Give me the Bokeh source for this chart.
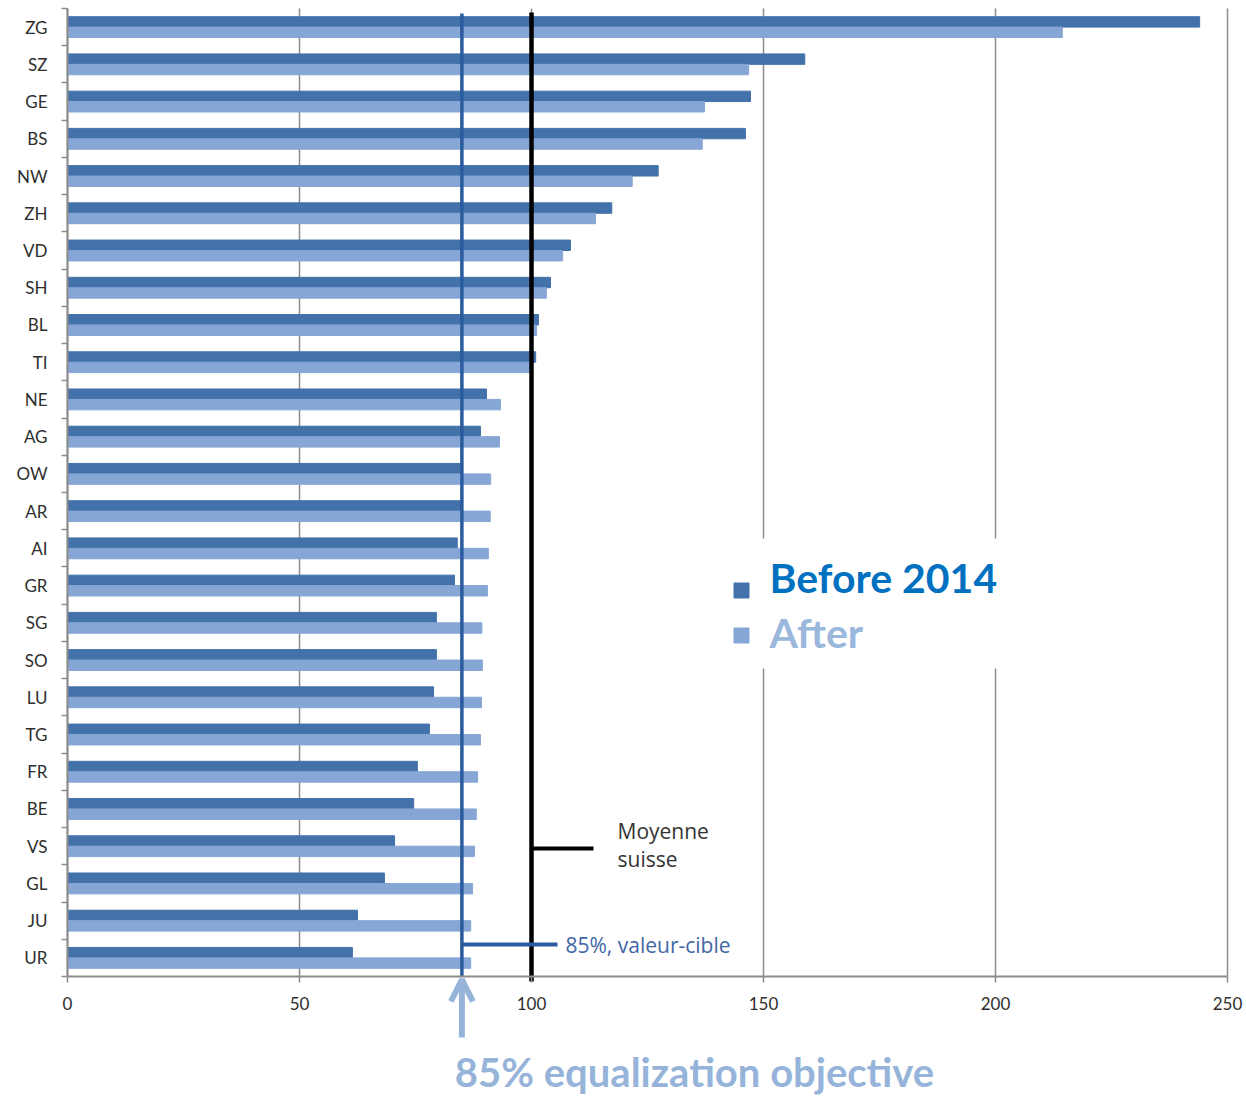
import numpy as np
from bokeh.plotting import figure
from bokeh.models import (Range1d, FixedTicker, Label, Arrow, OpenHead)
from bokeh.embed import file_html
from bokeh.resources import INLINE

# Resource index by canton, top to bottom (Swiss average = 100)
cantons = ["ZG", "SZ", "GE", "BS", "NW", "ZH", "VD", "SH", "BL", "TI", "NE", "AG", "OW",
           "AR", "AI", "GR", "SG", "SO", "LU", "TG", "FR", "BE", "VS", "GL", "JU", "UR"]
before_2014 = [244.0, 158.9, 147.2, 146.1, 127.3, 117.3, 108.4, 104.1, 101.5, 100.9, 90.3, 89.0, 85.1,
               84.9, 84.0, 83.4, 79.5, 79.5, 78.9, 78.0, 75.4, 74.6, 70.5, 68.3, 62.5, 61.4]
after = [214.4, 146.8, 137.3, 136.8, 121.7, 113.8, 106.7, 103.2, 101.1, 100.2, 93.3, 93.1, 91.2,
         91.1, 90.7, 90.5, 89.3, 89.4, 89.2, 89.0, 88.4, 88.1, 87.7, 87.3, 86.9, 86.9]
x_ticks = [0, 50, 100, 150, 200, 250]
swiss_average = 100
target = 85

DARK = "#4372aa"
LIGHT = "#86a6d5"
GRID = "#8c8c8c"
PALE = "#96b4da"
TARGET_BLUE = "#2a5b9e"

n = len(cantons)
pos = np.arange(n)[::-1] + 0.5   # ZG at the top

# page layout: rows from y=8 to y=976, value 0 at x=67 and 250 at x=1227
ROW_PX = (976 - 8) / n
X_PX = (1227 - 67) / 250

def sy(px):
    """vertical page position -> y value"""
    return (976 - px) / ROW_PX

def sx(px):
    return (px - 67) / X_PX

W, H = 1246, 1098
p = figure(width=W, height=H, output_backend="svg", toolbar_location=None,
           x_range=Range1d(sx(0), sx(W)), y_range=Range1d(sy(H), sy(0)),
           min_border_left=0, min_border_right=0, min_border_top=0, min_border_bottom=0)
p.outline_line_color = None
p.background_fill_color = "white"
p.border_fill_color = "white"

# both axes are pinned to the origin so the caption area below stays free
p.xaxis.fixed_location = 0
p.yaxis.fixed_location = 0
p.xaxis.ticker = FixedTicker(ticks=x_ticks)
p.xaxis.bounds = (0, 250)
p.yaxis.ticker = FixedTicker(ticks=list(pos), minor_ticks=list(range(n + 1)))
p.yaxis.major_label_overrides = {float(v): c for v, c in zip(pos, cantons)}
p.yaxis.bounds = (0, n)
for ax in (p.xaxis[0], p.yaxis[0]):
    ax.axis_line_color = GRID
    ax.axis_line_width = 2
    ax.major_label_text_font = "Lato"
    ax.major_label_text_font_size = "17px"
    ax.major_label_text_color = "#2e2e2e"
p.xaxis.major_tick_line_color = GRID
p.xaxis.major_tick_line_width = 1.5
p.xaxis.major_tick_out = 6
p.xaxis.major_tick_in = 0
p.xaxis.minor_tick_line_color = None
p.xaxis.major_label_standoff = 14
p.yaxis.major_tick_line_color = None
p.yaxis.major_tick_out = 0
p.yaxis.major_tick_in = 0
p.yaxis.minor_tick_line_color = GRID
p.yaxis.minor_tick_line_width = 1.5
p.yaxis.minor_tick_out = 6
p.yaxis.minor_tick_in = 0
p.yaxis.major_label_standoff = 14

p.xgrid.grid_line_color = GRID
p.xgrid.grid_line_width = 1.5
p.ygrid.visible = False

# blank out the grid outside the rows
p.quad(left=[sx(0)], right=[sx(W)], bottom=[sy(H)], top=[0], fill_color="white", line_color=None)
p.quad(left=[sx(0)], right=[sx(W)], bottom=[n], top=[sy(0)], fill_color="white", line_color=None)

# bars
p.hbar(y=pos + 0.14, left=0, right=before_2014, height=0.28, color=DARK)
p.hbar(y=pos - 0.14, left=0, right=after, height=0.28, color=LIGHT)

# reference lines
p.segment(x0=[target], x1=[target], y0=[0], y1=[sy(13)], line_color=TARGET_BLUE, line_width=3.5)
p.segment(x0=[swiss_average], x1=[swiss_average], y0=[sy(981)], y1=[sy(12)],
          line_color="black", line_width=4.5)

# callout lines
p.segment(x0=[swiss_average], x1=[sx(593)], y0=[sy(848)], y1=[sy(848)], line_color="black", line_width=4)
p.segment(x0=[target], x1=[sx(557)], y0=[sy(944)], y1=[sy(944)], line_color=TARGET_BLUE, line_width=4)

p.add_layout(Label(x=sx(617), y=sy(830), text="Moyenne", text_font="Open Sans",
                   text_font_size="21px", text_color="#333333", text_baseline="middle"))
p.add_layout(Label(x=sx(617), y=sy(858), text="suisse", text_font="Open Sans",
                   text_font_size="21px", text_color="#333333", text_baseline="middle"))
p.add_layout(Label(x=sx(565), y=sy(944), text="85%, valeur-cible", text_font="Open Sans",
                   text_font_size="21px", text_color="#4166a6", text_baseline="middle"))

# legend
p.quad(left=[sx(720)], right=[sx(1100)], bottom=[sy(668)], top=[sy(538)],
       fill_color="white", line_color=None)
p.scatter(x=[sx(741), sx(741)], y=[sy(590), sy(635)], marker="square", size=15,
          color=[DARK, LIGHT])
p.add_layout(Label(x=sx(769), y=sy(577), text="Before 2014", text_font="Lato",
                   text_font_style="bold", text_font_size="41px", text_color="#0070c0",
                   text_baseline="middle"))
p.add_layout(Label(x=sx(769), y=sy(632), text="After", text_font="Lato",
                   text_font_style="bold", text_font_size="41px", text_color="#9ab7dc",
                   text_baseline="middle"))

# objective arrow and caption
p.add_layout(Arrow(x_start=target, y_start=sy(1037), x_end=target, y_end=sy(979),
                   line_color=PALE, line_width=6,
                   end=OpenHead(size=22, line_color=PALE, line_width=6)))
p.add_layout(Label(x=sx(694), y=sy(1071),
                   text="85% equalization objective", text_font="Lato",
                   text_font_style="bold", text_font_size="40px", text_color=PALE,
                   text_align="center", text_baseline="middle"))

open("out.html", "w").write(file_html(p, INLINE))
